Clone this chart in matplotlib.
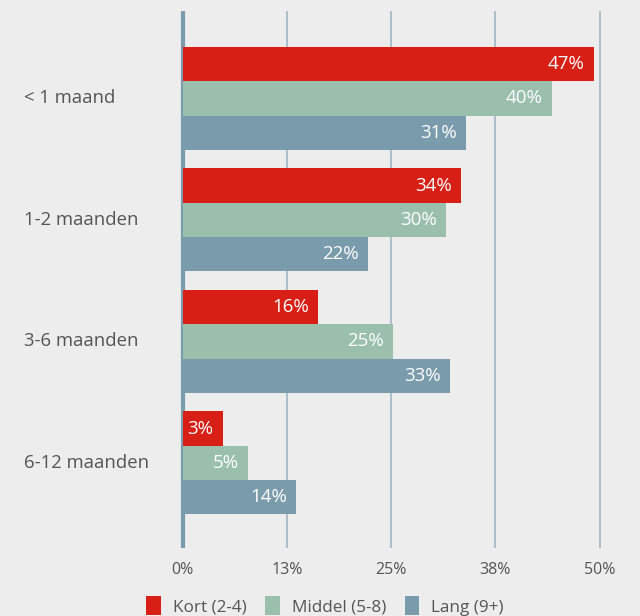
import matplotlib
matplotlib.use("Agg")
import matplotlib.pyplot as plt
from matplotlib.patches import Patch
from matplotlib.transforms import blended_transform_factory
import numpy as np

plt.rcParams['font.family'] = ['Open Sans', 'DejaVu Sans']

# data
categories = ['< 1 maand', '1-2 maanden', '3-6 maanden', '6-12 maanden']
series = ['Kort (2-4)', 'Middel (5-8)', 'Lang (9+)']
# bar lengths as drawn (percent axis)
kort = [49.3, 33.4, 16.2, 4.8]
middel = [44.3, 31.6, 25.2, 7.8]
lang = [34.0, 22.2, 32.0, 13.6]
# labels printed on the bars
kort_lbl = ['47%', '34%', '16%', '3%']
middel_lbl = ['40%', '30%', '25%', '5%']
lang_lbl = ['31%', '22%', '33%', '14%']
xticks = [0, 12.5, 25, 37.5, 50]
xtick_labels = ['0%', '13%', '25%', '38%', '50%']

colors = ['#d71f16', '#9abfad', '#7a9bab']
bg = '#ededed'
text_col = '#555555'

W, H = 640, 616
fig = plt.figure(figsize=(W / 100, H / 100), dpi=100, facecolor=bg)
px_per = 8.34
x0 = 182.7
xmin, xmax = -0.5, 51
left = (x0 + xmin * px_per) / W
right = (x0 + xmax * px_per) / W
ax = fig.add_axes([left, 1 - 548 / H, right - left, (548 - 11) / H])
ax.set_facecolor(bg)

# grid lines
for t in xticks[1:]:
    ax.axvline(t, color='#a9bbc6', lw=1.3, zorder=0)
ax.axvline(0, color='#7a9bab', lw=3, zorder=1)

y = np.arange(len(categories))
h = 0.2825
vals = [kort, middel, lang]
lbls = [kort_lbl, middel_lbl, lang_lbl]
for i, (v, lb, c) in enumerate(zip(vals, lbls, colors)):
    pos = y + (i - 1) * h
    ax.barh(pos, v, height=h, color=c, zorder=2, label=series[i])
    for p, val, s in zip(pos, v, lb):
        ax.text(val - 1.1, p, s, ha='right', va='center', color='white',
                fontsize=13.5, zorder=4)

ax.set_xlim(xmin, xmax)
ax.set_ylim(3.7, -0.72)
ax.set_xticks(xticks)
ax.set_xticklabels(xtick_labels, fontsize=11.5, color=text_col)
ax.tick_params(axis='x', length=0, pad=10)
ax.set_yticks([])
for s in ax.spines.values():
    s.set_visible(False)

trans = blended_transform_factory(fig.transFigure, ax.transData)
for yi, cat in zip(y, categories):
    ax.text(24 / W, yi, cat, transform=trans, ha='left', va='center',
            fontsize=13.3, color=text_col)

handles = [Patch(facecolor=c, edgecolor='none') for c in colors]
fig.legend(handles, series, loc='center', bbox_to_anchor=(325 / W, 1 - 606 / H),
           ncol=3, frameon=False, fontsize=12.3, labelcolor=text_col,
           handlelength=0.85, handleheight=1.3, handletextpad=0.7, columnspacing=1.1)

fig.savefig('out.png', dpi=100, facecolor=bg)
